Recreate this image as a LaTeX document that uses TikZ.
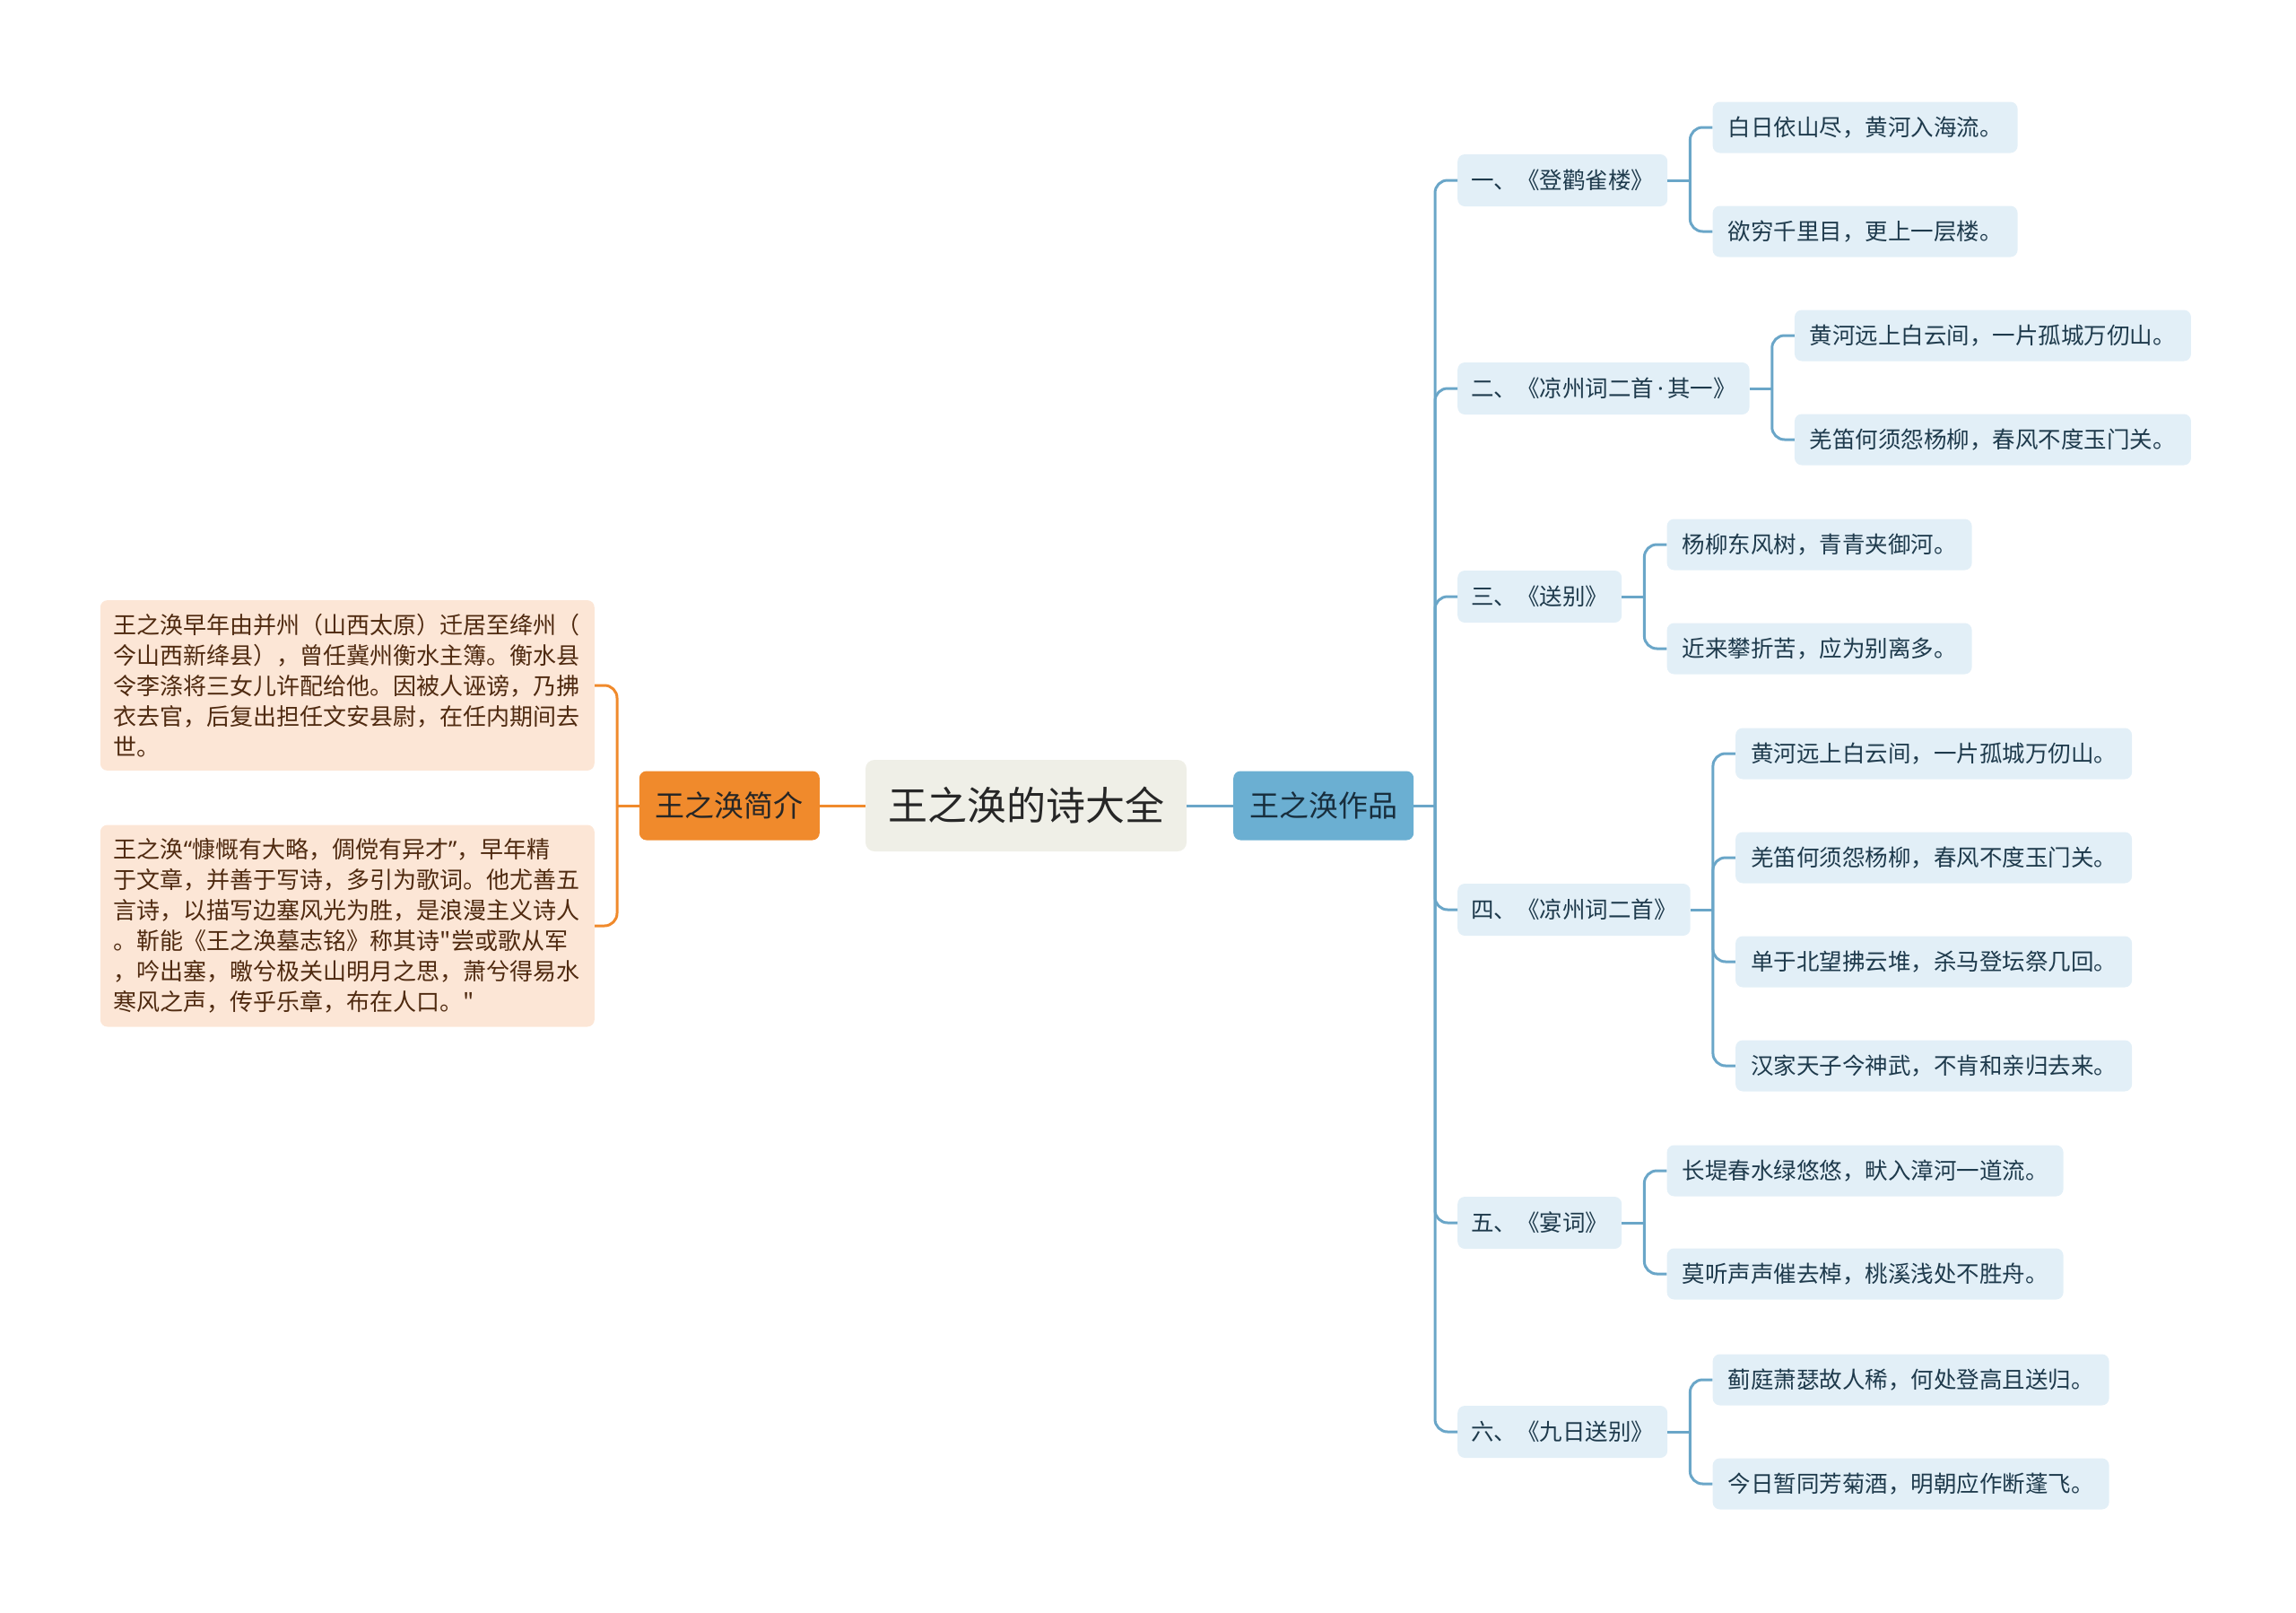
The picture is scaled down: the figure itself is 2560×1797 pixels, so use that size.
\documentclass[tikz,border=0pt]{standalone}
\usepackage{fontspec}
\usetikzlibrary{positioning,calc}
\newfontfamily\cjk{Noto Sans CJK SC}
\newfontfamily\lat{Noto Sans}
\definecolor{org}{HTML}{F08A2C}
\definecolor{orgfill}{HTML}{FCE6D6}
\definecolor{orgtxt}{HTML}{4F2A10}
\definecolor{blu}{HTML}{6AA6C8}
\definecolor{bluenode}{HTML}{6BAFD2}
\definecolor{blufill}{HTML}{E2EFF7}
\definecolor{blutxt}{HTML}{1E3A4C}
\definecolor{ctrfill}{HTML}{EFEFE7}
\tikzset{
  rootbox/.style={fill=ctrfill,rounded corners=10pt,inner xsep=25pt,minimum height=102pt,
    font=\cjk\fontsize{44pt}{50pt}\selectfont,text=black!85,text height=37.8pt,text depth=4.4pt},
  sidebox/.style={rounded corners=8pt,inner xsep=18pt,minimum height=77pt,
    font=\cjk\fontsize{33pt}{38pt}\selectfont,text height=28.4pt,text depth=3.3pt},
  introbox/.style={fill=orgfill,rounded corners=8pt,inner xsep=15pt,inner ysep=15pt,
    text width=521pt,align=left,text=orgtxt,font=\cjk\fontsize{26pt}{34pt}\selectfont},
  poembox/.style={fill=blufill,rounded corners=8pt,inner xsep=15pt,minimum height=58pt,
    text=blutxt,font=\cjk\fontsize{25.5pt}{30pt}\selectfont,text height=21.9pt,text depth=2.6pt},
  linebox/.style={poembox,inner xsep=17pt,minimum height=57pt},
  oline/.style={draw=org,line width=3pt,rounded corners=14pt},
  bline/.style={draw=blu,line width=3pt,rounded corners=14pt},
}
\begin{document}
\begin{tikzpicture}[x=1pt,y=-1pt]
  \path[use as bounding box] (0,0) rectangle (2560,1797);
  % centre and the two sides
  \node[rootbox] (root) at (1144,898) {王之涣的诗大全};
  \node[sidebox,fill=org,text=black!85,anchor=east] (intro) at (914,898) {王之涣简介};
  \node[sidebox,fill=bluenode,text=blutxt!80!black,anchor=west] (works) at (1375,898) {王之涣作品};
  \draw[oline] (root) -- (intro);
  \draw[bline] (root) -- (works);

  % left: biography
  \node[introbox,anchor=east] (bio1) at (663,764) {王之涣早年由并州（山西太原）迁居至绛州（\\今山西新绛县），曾任冀州衡水主簿。衡水县\\令李涤将三女儿许配给他。因被人诬谤，乃拂\\衣去官，后复出担任文安县尉，在任内期间去\\世。};
  \node[introbox,anchor=east] (bio2) at (663,1032) {王之涣{\lat“}慷慨有大略，倜傥有异才{\lat”}，早年精\\于文章，并善于写诗，多引为歌词。他尤善五\\言诗，以描写边塞风光为胜，是浪漫主义诗人\\。靳能《王之涣墓志铭》称其诗"尝或歌从军\\，吟出塞，曒兮极关山明月之思，萧兮得易水\\寒风之声，传乎乐章，布在人口。"};
  \coordinate (jo) at (688,898);
  \draw[oline] (intro) -- (jo);
  \draw[oline] (jo) |- (bio1.east);
  \draw[oline] (jo) |- (bio2.east);

  % right: poems
  \node[poembox,anchor=west] (p1) at (1625,201) {一、《登鹳雀楼》};
  \node[poembox,anchor=west] (p2) at (1625,433) {二、《凉州词二首{\lat\kern4pt·\kern4pt}其一》};
  \node[poembox,anchor=west] (p3) at (1625,665) {三、《送别》};
  \node[poembox,anchor=west] (p4) at (1625,1014) {四、《凉州词二首》};
  \node[poembox,anchor=west] (p5) at (1625,1363) {五、《宴词》};
  \node[poembox,anchor=west] (p6) at (1625,1596) {六、《九日送别》};
  \coordinate (jw) at (1600,898);
  \draw[bline] (works) -- (jw);
  \foreach \p in {p1,p2,p3,p4,p5,p6}
    \draw[bline] (jw) |- (\p.west);

  \node[linebox,anchor=west] (l11) at ([shift={(50pt,59pt)}]p1.east) {白日依山尽，黄河入海流。};
  \node[linebox,anchor=west] (l12) at ([shift={(50pt,-57pt)}]p1.east) {欲穷千里目，更上一层楼。};
  \node[linebox,anchor=west] (l21) at ([shift={(50pt,59pt)}]p2.east) {黄河远上白云间，一片孤城万仞山。};
  \node[linebox,anchor=west] (l22) at ([shift={(50pt,-57pt)}]p2.east) {羌笛何须怨杨柳，春风不度玉门关。};
  \node[linebox,anchor=west] (l31) at ([shift={(50pt,58pt)}]p3.east) {杨柳东风树，青青夹御河。};
  \node[linebox,anchor=west] (l32) at ([shift={(50pt,-58pt)}]p3.east) {近来攀折苦，应为别离多。};
  \node[linebox,anchor=west] (l41) at ([shift={(50pt,174pt)}]p4.east) {黄河远上白云间，一片孤城万仞山。};
  \node[linebox,anchor=west] (l42) at ([shift={(50pt,58pt)}]p4.east) {羌笛何须怨杨柳，春风不度玉门关。};
  \node[linebox,anchor=west] (l43) at ([shift={(50pt,-58pt)}]p4.east) {单于北望拂云堆，杀马登坛祭几回。};
  \node[linebox,anchor=west] (l44) at ([shift={(50pt,-174pt)}]p4.east) {汉家天子今神武，不肯和亲归去来。};
  \node[linebox,anchor=west] (l51) at ([shift={(50pt,58pt)}]p5.east) {长堤春水绿悠悠，畎入漳河一道流。};
  \node[linebox,anchor=west] (l52) at ([shift={(50pt,-57pt)}]p5.east) {莫听声声催去棹，桃溪浅处不胜舟。};
  \node[linebox,anchor=west] (l61) at ([shift={(50pt,58pt)}]p6.east) {蓟庭萧瑟故人稀，何处登高且送归。};
  \node[linebox,anchor=west] (l62) at ([shift={(50pt,-58pt)}]p6.east) {今日暂同芳菊酒，明朝应作断蓬飞。};

  \foreach \p/\ls in {p1/{l11,l12},p2/{l21,l22},p3/{l31,l32},p4/{l41,l42,l43,l44},p5/{l51,l52},p6/{l61,l62}} {
    \coordinate (j\p) at ([xshift=25pt]\p.east);
    \draw[bline] (\p.east) -- (j\p);
    \foreach \l in \ls
      \draw[bline] (j\p) |- (\l.west);
  }
\end{tikzpicture}
\end{document}
